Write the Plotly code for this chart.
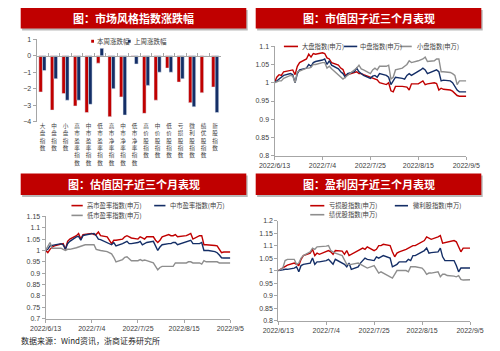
import plotly.graph_objects as go
import pandas as pd

W, H = 500, 351

# ---------------- data ----------------
categories = ["大盘指数", "中盘指数", "小盘指数", "高市盈率指数", "中市盈率指数", "低市盈率指数",
              "高市净率指数", "中市净率指数", "低市净率指数", "高价股指数", "中价股指数", "低价股指数",
              "亏损股指数", "微利股指数", "绩优股指数", "新股指数"]
this_week = [-2.2, -3.3, -2.3, -3.05, -3.45, -0.45, -3.7, -2.5, -0.02, -3.5, -2.7, -0.75,
             -1.6, -2.85, -2.25, -1.9]
last_week = [-0.9, -1.4, -2.7, -2.7, -2.95, 0.45, -2.0, -3.6, -0.5, -1.8, -1.0, -1.0,
             -1.4, -3.1, 0.0, -3.45]
bar_names = ["本周涨跌幅", "上周涨跌幅"]

dates = pd.bdate_range("2022-06-13", "2022-09-05")
date_ticks = ["2022-06-13", "2022-07-04", "2022-07-25", "2022-08-15", "2022-09-05"]
date_tick_labels = ["2022/6/13", "2022/7/4", "2022/7/25", "2022/8/15", "2022/9/5"]

size_names = ["大盘指数(申万)", "中盘指数(申万)", "小盘指数(申万)"]
large_cap = [1.000, 1.015, 1.022, 1.020, 1.030, 1.033, 1.035, 1.022, 1.045, 1.055,
             1.065, 1.078, 1.070, 1.080, 1.078, 1.082, 1.080, 1.068, 1.065, 1.055,
             1.048, 1.040, 1.036, 1.020, 1.022, 1.028, 1.030, 1.025, 1.025, 1.022,
             1.015, 1.012, 1.010, 1.008, 1.000, 0.995, 1.000, 0.978, 0.975, 0.990,
             0.990, 0.990, 0.988, 0.980, 0.997, 0.997, 1.000, 1.005, 0.995, 0.997,
             1.000, 0.998, 0.980, 0.985, 0.982, 0.980, 0.977, 0.972, 0.965, 0.963, 0.963]
mid_cap = [1.000, 1.005, 1.010, 1.015, 1.020, 1.025, 1.022, 1.000, 1.025, 1.035,
           1.040, 1.050, 1.045, 1.055, 1.058, 1.062, 1.065, 1.050, 1.060, 1.048,
           1.038, 1.030, 1.025, 1.015, 1.025, 1.030, 1.040, 1.030, 1.025, 1.020,
           1.012, 1.018, 1.020, 1.015, 1.025, 1.020, 1.015, 0.995, 1.005, 1.015,
           1.012, 1.010, 1.020, 1.025, 1.020, 1.030, 1.035, 1.040, 1.035, 1.025,
           1.032, 1.035, 1.030, 1.005, 1.007, 1.005, 1.000, 0.990, 0.980, 0.975, 0.975]
small_cap = [1.000, 1.003, 1.005, 1.005, 1.012, 1.020, 1.018, 1.000, 1.030, 1.032,
             1.040, 1.040, 1.042, 1.050, 1.050, 1.055, 1.055, 1.040, 1.045, 1.038,
             1.022, 1.015, 1.010, 1.015, 1.020, 1.035, 1.040, 1.048, 1.038, 1.035,
             1.025, 1.035, 1.040, 1.035, 1.045, 1.045, 1.048, 1.010, 1.015, 1.035,
             1.040, 1.045, 1.050, 1.060, 1.055, 1.060, 1.062, 1.065, 1.070, 1.058,
             1.060, 1.065, 1.065, 1.030, 1.030, 1.028, 1.025, 1.020, 0.995, 1.005, 1.005]

pe_names = ["高市盈率指数(申万)", "中市盈率指数(申万)", "低市盈率指数(申万)"]
high_pe = [1.000, 0.990, 1.005, 1.015, 1.020, 1.030, 1.030, 1.005, 1.040, 1.050,
           1.065, 1.075, 1.050, 1.070, 1.072, 1.075, 1.070, 1.070, 1.081, 1.065,
           1.060, 1.045, 1.030, 1.045, 1.045, 1.050, 1.060, 1.065, 1.060, 1.055,
           1.050, 1.060, 1.055, 1.050, 1.060, 1.060, 1.045, 1.035, 1.045, 1.060,
           1.070, 1.065, 1.065, 1.070, 1.060, 1.062, 1.065, 1.070, 1.075, 1.050,
           1.065, 1.065, 1.025, 1.025, 1.025, 1.022, 1.020, 1.005, 0.990, 0.993, 0.993]
mid_pe = [1.000, 1.005, 1.020, 1.022, 1.025, 1.030, 1.025, 1.005, 1.030, 1.040,
          1.060, 1.062, 1.045, 1.065, 1.068, 1.072, 1.075, 1.065, 1.050, 1.048,
          1.035, 1.028, 1.025, 1.035, 1.020, 1.030, 1.035, 1.040, 1.030, 1.030,
          1.035, 1.040, 1.025, 1.030, 1.035, 1.040, 1.020, 1.000, 1.015, 1.025,
          1.030, 1.030, 1.035, 1.035, 1.025, 1.035, 1.035, 1.040, 1.045, 1.030,
          1.030, 1.035, 1.000, 1.000, 1.000, 0.995, 0.990, 0.980, 0.968, 0.967, 0.967]
low_pe = [1.000, 1.015, 1.035, 1.010, 1.010, 1.010, 1.005, 1.000, 1.005, 1.005,
          1.012, 1.015, 1.020, 1.022, 1.025, 1.025, 1.025, 1.005, 1.002, 1.000,
          0.995, 0.990, 0.985, 0.970, 0.950, 0.960, 0.970, 0.972, 0.965, 0.955,
          0.955, 0.960, 0.955, 0.958, 0.955, 0.945, 0.930, 0.915, 0.925, 0.930,
          0.930, 0.930, 0.930, 0.945, 0.945, 0.945, 0.945, 0.950, 0.950, 0.945,
          0.945, 0.940, 0.955, 0.950, 0.950, 0.950, 0.950, 0.945, 0.945, 0.945, 0.945]

profit_names = ["亏损股指数(申万)", "微利股指数(申万)", "绩优股指数(申万)"]
loss_stock = [1.000, 1.005, 1.010, 1.015, 1.022, 1.030, 1.025, 1.020, 1.045, 1.060,
              1.070, 1.085, 1.060, 1.070, 1.065, 1.075, 1.080, 1.075, 1.065, 1.080,
              1.078, 1.065, 1.080, 1.060, 1.065, 1.080, 1.085, 1.090, 1.085, 1.095,
              1.080, 1.085, 1.100, 1.100, 1.105, 1.100, 1.075, 1.055, 1.070, 1.075,
              1.085, 1.090, 1.095, 1.100, 1.100, 1.115, 1.120, 1.135, 1.130, 1.125,
              1.135, 1.140, 1.110, 1.112, 1.115, 1.120, 1.115, 1.095, 1.075, 1.090, 1.090]
low_profit = [1.000, 1.000, 1.003, 1.005, 1.005, 1.010, 1.015, 0.995, 1.020, 1.025,
              1.030, 1.050, 1.025, 1.035, 1.035, 1.040, 1.045, 1.035, 1.025, 1.045,
              1.030, 1.025, 1.015, 1.030, 1.005, 1.015, 1.030, 1.040, 1.050, 1.045,
              1.040, 1.055, 1.050, 1.055, 1.060, 1.050, 1.015, 1.020, 1.025, 1.035,
              1.035, 1.045, 1.040, 1.060, 1.060, 1.075, 1.080, 1.090, 1.070, 1.072,
              1.075, 1.090, 1.055, 1.040, 1.040, 1.040, 1.020, 0.995, 1.010, 1.010, 1.010]
blue_chip = [1.000, 1.005, 1.010, 1.040, 1.045, 1.045, 1.025, 1.030, 1.050, 1.060,
             1.075, 1.090, 1.085, 1.095, 1.095, 1.098, 1.100, 1.080, 1.075, 1.070,
             1.060, 1.045, 1.025, 1.025, 1.025, 1.030, 1.025, 1.020, 1.015, 1.010,
             1.020, 1.005, 0.990, 0.995, 0.990, 0.975, 0.970, 0.985, 1.000, 1.000,
             1.000, 0.995, 1.015, 1.015, 1.015, 1.010, 1.000, 0.985, 0.990, 0.990,
             0.995, 0.975, 0.985, 0.985, 0.980, 0.978, 0.975, 0.980, 0.965, 0.962, 0.963]

titles = ["图：市场风格指数涨跌幅", "图：市值因子近三个月表现", "图：估值因子近三个月表现", "图：盈利因子近三个月表现"]
source_text = "数据来源：Wind资讯，浙商证券研究所"

# ---------------- styling ----------------
RED = "#C00000"
NAVY = "#142E66"
GRAY = "#8E8E8E"
AX = "#A6A6A6"
TXT = "#404040"
FONT = "Liberation Sans, Noto Sans CJK SC, sans-serif"
CJK = "Noto Sans CJK SC, sans-serif"
line_colors = [RED, NAVY, GRAY]


def px(x):
    return x / W


def py(y):
    return 1 - y / H


fig = go.Figure()

# ---- chart 1: bars
fig.add_trace(go.Bar(x=categories, y=this_week, name=bar_names[0], marker_color=RED,
                     xaxis="x", yaxis="y", showlegend=False))
fig.add_trace(go.Bar(x=categories, y=last_week, name=bar_names[1], marker_color=NAVY,
                     xaxis="x", yaxis="y", showlegend=False))
# invisible helper trace so the zero-line axis is drawn
fig.add_trace(go.Scatter(x=[], y=[], xaxis="x5", yaxis="y", showlegend=False))

# ---- line charts
for vals, name, col in zip([large_cap, mid_cap, small_cap], size_names, line_colors):
    fig.add_trace(go.Scatter(x=dates, y=vals, name=name, mode="lines",
                             line=dict(color=col, width=1.4), xaxis="x2", yaxis="y2", showlegend=False))
for vals, name, col in zip([high_pe, mid_pe, low_pe], pe_names, line_colors):
    fig.add_trace(go.Scatter(x=dates, y=vals, name=name, mode="lines",
                             line=dict(color=col, width=1.4), xaxis="x3", yaxis="y3", showlegend=False))
for vals, name, col in zip([loss_stock, low_profit, blue_chip], profit_names, line_colors):
    fig.add_trace(go.Scatter(x=dates, y=vals, name=name, mode="lines",
                             line=dict(color=col, width=1.4), xaxis="x4", yaxis="y4", showlegend=False))

tickfont = dict(family=FONT, size=7, color=TXT)

# domains
d1x, d1y = [px(22), px(218)], [py(120), py(36)]
d2x, d2y = [px(275), px(479)], [py(155), py(43)]
d3x, d3y = [px(31.5), px(228)], [py(321), py(216.7)]
d4x, d4y = [px(279), px(483)], [py(323), py(221)]

zero_pos = d1y[0] + (0 - (-4)) / 5 * (d1y[1] - d1y[0])

common_y = dict(showgrid=False, zeroline=False, showline=True, linecolor=AX, linewidth=1,
                ticks="outside", ticklen=3, tickcolor=AX, tickfont=tickfont)
common_xd = dict(type="date", showgrid=False, zeroline=False, showline=True, linecolor=AX,
                 linewidth=1, ticks="outside", ticklen=3, tickcolor=AX, tickfont=tickfont,
                 range=[date_ticks[0], date_ticks[-1]], tickvals=date_ticks,
                 ticktext=date_tick_labels)

fig.update_layout(
    width=W, height=H, margin=dict(l=0, r=0, t=0, b=0, pad=0),
    paper_bgcolor="white", plot_bgcolor="white",
    barmode="group", bargap=0.38, bargroupgap=0,
    xaxis=dict(domain=d1x, anchor="y", type="category", showgrid=False, zeroline=False,
               showline=False, ticks="", tickvals=categories,
               ticktext=["<br>".join(list(c)) for c in categories],
               tickfont=dict(family=CJK, size=5.6, color=TXT), tickangle=0,
               range=[-0.5, len(categories) - 0.5]),
    xaxis5=dict(overlaying="x", anchor="free", position=zero_pos, domain=d1x,
                range=[-0.5, len(categories) - 0.5], tick0=-0.5, dtick=1,
                showticklabels=False, ticks="inside", ticklen=3, tickcolor=AX,
                showline=True, linecolor=AX, linewidth=1, showgrid=False, zeroline=False),
    yaxis=dict(domain=d1y, anchor="x", range=[-4, 1], dtick=1, **common_y),
    xaxis2=dict(domain=d2x, anchor="y2", **common_xd),
    yaxis2=dict(domain=d2y, anchor="x2", range=[0.8, 1.1], dtick=0.05, **common_y),
    xaxis3=dict(domain=d3x, anchor="y3", **common_xd),
    yaxis3=dict(domain=d3y, anchor="x3", range=[0.7, 1.15], dtick=0.05, **common_y),
    xaxis4=dict(domain=d4x, anchor="y4", **common_xd),
    yaxis4=dict(domain=d4y, anchor="x4", range=[0.8, 1.2], dtick=0.05, **common_y),
)

shapes = []
annotations = []

# banners
banner_boxes = [(5, 4, 245, 25), (255, 4, 495, 25), (5, 173, 245, 195), (255, 173, 495, 195)]
for (x0, y0, x1, y1), t in zip(banner_boxes, titles):
    shapes.append(dict(type="rect", xref="paper", yref="paper", x0=px(x0 + 1.5), x1=px(x1 + 1.5),
                       y0=py(y1 + 2), y1=py(y0 + 2), fillcolor="rgba(0,0,0,0.28)", line_width=0,
                       layer="above"))
    shapes.append(dict(type="rect", xref="paper", yref="paper", x0=px(x0), x1=px(x1),
                       y0=py(y1), y1=py(y0), fillcolor=RED, line_width=0, layer="above"))
    annotations.append(dict(text="<b>" + t + "</b>", xref="paper", yref="paper",
                            x=px((x0 + x1) / 2), y=py((y0 + y1) / 2), showarrow=False,
                            xanchor="center", yanchor="middle",
                            font=dict(family=CJK, size=11, color="white")))

# bar legend
for (sx, tx), name, col in zip([(80, 84), (119, 123)], bar_names, [RED, NAVY]):
    shapes.append(dict(type="rect", xref="paper", yref="paper", x0=px(sx), x1=px(sx + 3),
                       y0=py(39.5), y1=py(36.5), fillcolor=col, line_width=0))
    annotations.append(dict(text=name, xref="paper", yref="paper", x=px(tx), y=py(38),
                            showarrow=False, xanchor="left", yanchor="middle",
                            font=dict(family=CJK, size=6.5, color=TXT)))

# line legends: (sample_x0, sample_x1, text_x, y)
legend_specs = [
    (size_names, [(285, 300, 302, 43.3), (349, 363, 364, 43.3), (408, 421, 424, 43.3)]),
    (pe_names, [(59, 71, 73, 205.7), (147, 159, 162, 205.7), (59, 71, 73, 215.7)]),
    (profit_names, [(313, 328, 331, 205.8), (403, 417, 420, 205.8), (313, 328, 331, 215)]),
]
for names, pos in legend_specs:
    for name, (lx0, lx1, tx, ly), col in zip(names, pos, line_colors):
        shapes.append(dict(type="line", xref="paper", yref="paper", x0=px(lx0), x1=px(lx1),
                           y0=py(ly), y1=py(ly), line=dict(color=col, width=1.6)))
        annotations.append(dict(text=name, xref="paper", yref="paper", x=px(tx), y=py(ly),
                                showarrow=False, xanchor="left", yanchor="middle",
                                font=dict(family=CJK, size=6.3, color=TXT)))

annotations.append(dict(text=source_text, xref="paper", yref="paper", x=px(3), y=py(343),
                        showarrow=False, xanchor="left", yanchor="middle",
                        font=dict(family=CJK, size=8, color="#262626")))

fig.update_layout(shapes=shapes, annotations=annotations)
fig.write_html("out.html")
